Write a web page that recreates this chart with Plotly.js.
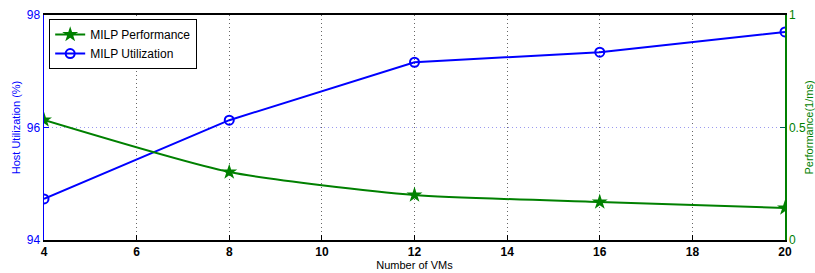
<!DOCTYPE html>
<html><head><meta charset="utf-8">
<script src="https://cdn.plot.ly/plotly-3.0.1.min.js"></script>
<style>html,body{margin:0;padding:0;background:#fff}#c{width:815px;height:273px}</style>
</head><body><div id="c"></div>
<script>
const vms = [4, 8, 12, 16, 20];
const utilization = [94.73, 96.13, 97.16, 97.34, 97.70];
const performance = [0.533, 0.302, 0.200, 0.169, 0.142];
const xTicks = [4, 6, 8, 10, 12, 14, 16, 18, 20];

const font = 'Liberation Sans, Arial, sans-serif';
const traces = [
  {x: vms, y: performance, yaxis: 'y2', name: 'MILP Performance', mode: 'lines+markers',
   line: {color: '#008000', width: 2, shape: 'spline', smoothing: 0.6},
   marker: {symbol: 'star', size: 12, color: '#008000'}},
  {x: vms, y: utilization, name: 'MILP Utilization', mode: 'lines+markers',
   line: {color: '#0000ff', width: 2},
   marker: {symbol: 'circle-open', size: 9, color: '#0000ff', line: {width: 2, color: '#0000ff'}}}
];
const layout = {
  width: 815, height: 273,
  margin: {l: 44, r: 30, t: 15, b: 33},
  paper_bgcolor: '#fff', plot_bgcolor: '#fff',
  font: {family: font, size: 11},
  showlegend: true,
  legend: {x: 0.007, y: 0.982, xanchor: 'left', yanchor: 'top', bgcolor: '#fff',
    bordercolor: '#000', borderwidth: 1, font: {size: 12, color: '#000'},
    tracegroupgap: 0, itemwidth: 30},
  xaxis: {range: [4, 20], tickvals: xTicks, ticks: 'inside', ticklen: 5, tickcolor: '#000',
    showline: true, linecolor: '#000', linewidth: 2, mirror: true,
    showgrid: true, gridcolor: '#666', griddash: '1px,3px', gridwidth: 1, zeroline: false,
    tickfont: {size: 12, color: '#000', weight: 'bold'},
    title: {text: 'Number of VMs', font: {size: 11, color: '#000'}, standoff: 2}},
  yaxis: {range: [94, 98], tickvals: [94, 96, 98], ticks: 'inside', ticklen: 5, tickcolor: '#0000ff',
    showline: true, linecolor: '#0000ff', linewidth: 1.5,
    showgrid: true, gridcolor: '#9a9af0', griddash: '1px,3px', gridwidth: 1.5, zeroline: false,
    tickfont: {size: 12, color: '#0000ff'},
    title: {text: 'Host Utilization (%)', font: {size: 11, color: '#0000ff'}, standoff: 4}},
  yaxis2: {range: [0, 1], tickvals: [0, 0.5, 1], ticktext: ['0', '0.5', '1'], overlaying: 'y', side: 'right',
    ticks: 'inside', ticklen: 5, tickcolor: '#006060',
    showline: true, linecolor: '#008000', linewidth: 1.5, showgrid: false, zeroline: false,
    tickfont: {size: 12, color: '#008000'},
    title: {text: 'Performance(1/ms)', font: {size: 11, color: '#008000'}, standoff: 2}}
};
Plotly.newPlot('c', traces, layout, {displayModeBar: false, staticPlot: true});
</script></body></html>
